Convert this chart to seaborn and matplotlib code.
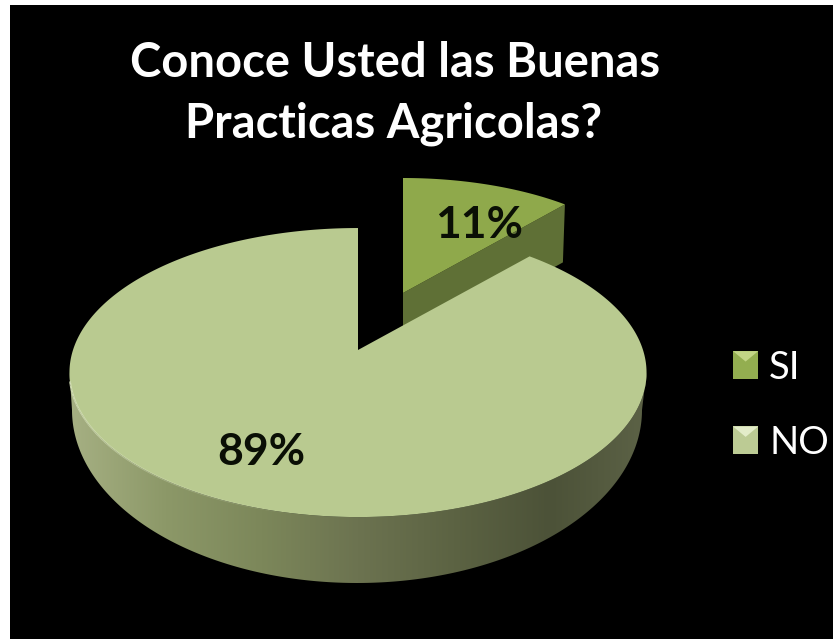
import numpy as np
import matplotlib
matplotlib.use("Agg")
import matplotlib.pyplot as plt
from matplotlib.collections import LineCollection
from matplotlib.colors import to_rgb
from matplotlib.patches import Polygon, Rectangle
from matplotlib.legend_handler import HandlerBase
import seaborn as sns

# Survey answers
categories = ["SI", "NO"]
shares = [11, 89]
label_texts = ["11%", "89%"]
title_lines = ["Conoce Usted las Buenas", "Practicas Agricolas?"]

sns.set_theme(style="white")
plt.rcParams["font.family"] = ["Lato", "DejaVu Sans"]

W, H = 833, 639
fig = plt.figure(figsize=(W / 100, H / 100), dpi=100, facecolor="white")
# Black panel; data units are pixels of the panel
left, top, bottom = 10, 5, 639
ax = fig.add_axes([left / W, 1 - bottom / H, (W - left) / W, (bottom - top) / H])
ax.set_facecolor("black")
ax.set_xticks([])
ax.set_yticks([])
for s in ax.spines.values():
    s.set_visible(False)

# Slice angles, clockwise from twelve o'clock
fractions = np.array(shares) / sum(shares)
edges = 2 * np.pi * np.concatenate([[0], np.cumsum(fractions)])


def project(theta, origin, ax_x, ax_y, persp=0.0, bend=0.0):
    """Tilted-disc projection with optional foreshortening towards the back."""
    theta = theta + bend * np.sin(theta)
    u, v = np.sin(theta), np.cos(theta)
    w = 1 + persp * v
    return origin[0] + ax_x * u / w, origin[1] - ax_y * v / w


no_view = dict(origin=(358, 350), ax_x=285, ax_y=141, persp=0.156, bend=0.071)
no_base = dict(origin=(357, 410), ax_x=285, ax_y=173)
si_view = dict(origin=(403, 293), ax_x=254, ax_y=115)
depth_si = 58

# Exploded SI slice: side wall first, then the top face
t_si = np.linspace(edges[0], edges[1], 80)
sx, sy = project(t_si, **si_view)
ax0, ay0 = si_view["origin"]
ax.add_patch(Polygon([(ax0, ay0), (sx[-1], sy[-1]), (sx[-1] - 2, sy[-1] + depth_si),
                      (ax0, ay0 + depth_si)], closed=True, fc="#5f7036", ec="none", zorder=2))
ax.add_patch(Polygon(np.column_stack([np.r_[ax0, sx], np.r_[ay0, sy]]), closed=True,
                     fc="#8fa94b", ec="none", zorder=3))

# NO slice side wall: horizontal shading clipped between the two rims
t_no = np.linspace(edges[1], edges[2], 600)
nx, ny = project(t_no, **no_view)
nox, noy = no_view["origin"]
i_right, i_left = int(np.argmax(nx)), int(np.argmin(nx))
fx, fy = nx[i_right:i_left + 1], ny[i_right:i_left + 1]
bx, by = project(np.linspace(np.pi / 2, 3 * np.pi / 2, 300), **no_base)
wall = np.column_stack([np.r_[fx, bx[::-1]], np.r_[fy, by[::-1]]])
wall_patch = Polygon(wall, closed=True, fc="none", ec="none")
ax.add_patch(wall_patch)
wall_cmap = sns.blend_palette(["#5c6246", "#4c5238", "#5c6343", "#6c7350", "#7c875a", "#8c9868", "#a6b083"],
                              n_colors=256, as_cmap=True)
ramp = ax.imshow(np.linspace(0, 1, 256)[None, :], cmap=wall_cmap, aspect="auto",
                 extent=(fx.max(), fx.min(), 600, 340), zorder=4)
ramp.set_clip_path(wall_patch)

ax.set_xlim(left, W)
ax.set_ylim(bottom, top)

# NO slice top face with a highlight along the front rim that fades towards the middle
ax.add_patch(Polygon(np.column_stack([np.r_[nox, nx], np.r_[noy, ny]]), closed=True,
                     fc="#b9ca90", ec="none", zorder=5))
rim = (t_no > np.deg2rad(190)) & (t_no < np.deg2rad(262))
rx, ry = nx[rim], ny[rim]
segments = np.stack([np.column_stack([rx[:-1], ry[:-1]]), np.column_stack([rx[1:], ry[1:]])], axis=1)
fade = np.linspace(0.0, 0.9, len(segments))
ax.add_collection(LineCollection(segments, colors=[(*to_rgb("#dbe6bd"), a) for a in fade],
                                 linewidths=1.3, zorder=6), autolim=False)

# Value labels
ax.text(479, 225, label_texts[0], ha="center", va="center", fontsize=32, weight="bold",
        color="#0a0f05", zorder=7)
ax.text(261, 452, label_texts[1], ha="center", va="center", fontsize=32, weight="bold",
        color="#0a0f05", zorder=7)

# Title
ax.text(395, 77, title_lines[0], ha="center", va="baseline", fontsize=33.9, weight="bold", color="white")
ax.text(394, 137, title_lines[1], ha="center", va="baseline", fontsize=33.9, weight="bold", color="white")


class BevelHandler(HandlerBase):
    """Legend key drawn as a small bevelled square."""

    def __init__(self, face, light):
        super().__init__()
        self.face, self.light = face, light

    def create_artists(self, legend, orig, xd, yd, width, height, fontsize, trans):
        sq = Rectangle((xd, yd), width, height, fc=self.face, ec="none", transform=trans)
        tri = Polygon([(xd, yd + height), (xd + width, yd + height),
                       (xd + width / 2, yd + height * 0.62)], fc=self.light, ec="none",
                      transform=trans)
        return [sq, tri]


si_h = Rectangle((0, 0), 1, 1)
no_h = Rectangle((0, 0), 1, 1)
leg = ax.legend([si_h, no_h], categories, frameon=False, fontsize=27.5,
                labelcolor="white", handlelength=0.66, handleheight=0.73, handletextpad=0.29,
                labelspacing=1.03, borderpad=0, borderaxespad=0,
                loc="upper left", bbox_to_anchor=(733, 350), bbox_transform=ax.transData,
                handler_map={si_h: BevelHandler("#93ae50", "#c2d585"),
                             no_h: BevelHandler("#bccb94", "#e3ecc9")})

fig.savefig("out.png", dpi=100, facecolor="white")
